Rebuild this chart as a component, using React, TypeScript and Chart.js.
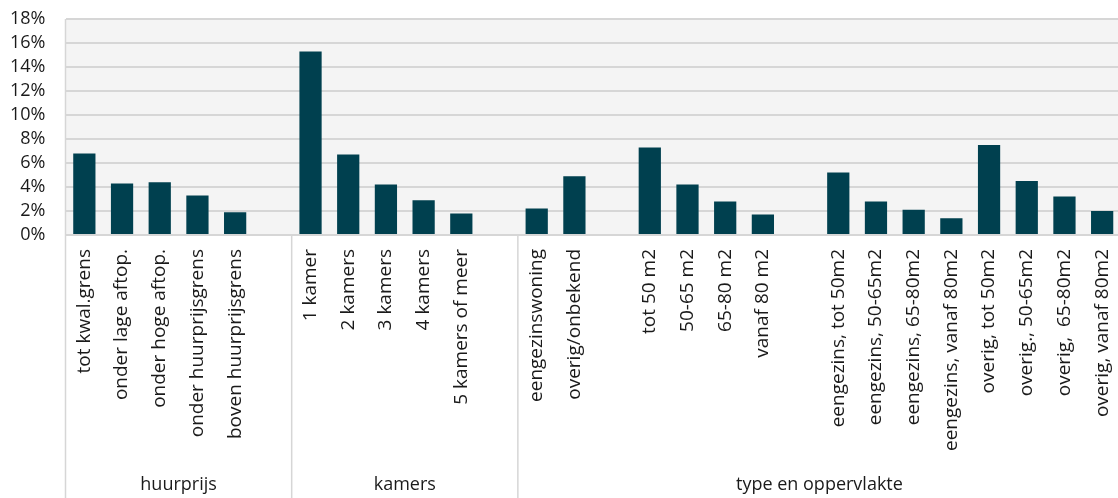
import { useEffect, useRef } from 'react';
import { Chart, registerables } from 'chart.js';

Chart.register(...registerables);

// Category slots along the x axis; empty strings are spacer slots between blocks.
const categories = [
  'tot kwal.grens', 'onder lage aftop.', 'onder hoge aftop.', 'onder huurprijsgrens', 'boven huurprijsgrens', '',
  '1 kamer', '2 kamers', '3 kamers', '4 kamers', '5 kamers of meer', '',
  'eengezinswoning', 'overig/onbekend', '',
  'tot 50 m2', '50-65 m2', '65-80 m2', 'vanaf 80 m2', '',
  'eengezins, tot 50m2', 'eengezins, 50-65m2', 'eengezins, 65-80m2', 'eengezins, vanaf 80m2',
  'overig, tot 50m2', 'overig., 50-65m2', 'overig,  65-80m2', 'overig, vanaf 80m2',
];

// Share per category, in percent (null = spacer slot).
const shares = [
  6.8, 4.3, 4.4, 3.3, 1.9, null,
  15.3, 6.7, 4.2, 2.9, 1.8, null,
  2.2, 4.9, null,
  7.3, 4.2, 2.8, 1.7, null,
  5.2, 2.8, 2.1, 1.4,
  7.5, 4.5, 3.2, 2.0,
];

// Outer category level: group names and how many slots each spans.
const groupNames = ['huurprijs', 'kamers', 'type en oppervlakte'];
const groupSpans = [6, 6, 16];

// Value axis range and step, in percent.
const yMin = 0;
const yMax = 18;
const yStep = 2;

const FONT = '"Open Sans", sans-serif';
const TEXT = '#1a1a1a';
const LINE = '#d6d6d6';

const groupAxisPlugin = {
  id: 'groupAxis',
  beforeDraw(chart: any) {
    const { ctx, chartArea } = chart;
    ctx.save();
    ctx.fillStyle = '#f4f4f4';
    ctx.fillRect(chartArea.left, chartArea.top, chartArea.right - chartArea.left, chartArea.bottom - chartArea.top);
    ctx.restore();
  },
  afterDraw(chart: any) {
    const { ctx, chartArea, height } = chart;
    const x = chart.scales.x;
    const slot = (chartArea.right - chartArea.left) / categories.length;
    ctx.save();
    ctx.strokeStyle = LINE;
    ctx.lineWidth = 1.5;
    // left frame line, from top of the plot down to the bottom of the axis
    ctx.beginPath();
    ctx.moveTo(chartArea.left, chartArea.top);
    ctx.lineTo(chartArea.left, height);
    ctx.stroke();
    let start = 0;
    ctx.fillStyle = TEXT;
    ctx.font = `18px ${FONT}`;
    ctx.textAlign = 'center';
    ctx.textBaseline = 'middle';
    groupSpans.forEach((span, i) => {
      const end = start + span;
      const xStart = x.getPixelForValue(start) - slot / 2;
      const xEnd = x.getPixelForValue(end - 1) + slot / 2;
      if (end < categories.length) {
        ctx.beginPath();
        ctx.moveTo(xEnd, chartArea.bottom);
        ctx.lineTo(xEnd, height);
        ctx.stroke();
      }
      ctx.fillText(groupNames[i], (xStart + Math.min(xEnd, chartArea.right)) / 2, 485);
      start = end;
    });
    ctx.restore();
  },
};

export default function App() {
  const canvasRef = useRef<HTMLCanvasElement>(null);

  useEffect(() => {
    if (!canvasRef.current) return;
    const chart = new Chart(canvasRef.current, {
      type: 'bar',
      data: {
        labels: categories,
        datasets: [
          {
            data: shares,
            backgroundColor: '#00404f',
            barPercentage: 0.59,
            categoryPercentage: 1,
          },
        ],
      },
      options: {
        animation: false,
        responsive: true,
        maintainAspectRatio: false,
        layout: { padding: 0 },
        plugins: {
          legend: { display: false },
          tooltip: { enabled: false },
        },
        scales: {
          x: {
            grid: { display: false, drawTicks: false },
            border: { display: false },
            ticks: {
              autoSkip: false,
              minRotation: 90,
              maxRotation: 90,
              padding: 14,
              color: TEXT,
              font: { family: FONT, size: 19 },
            },
            afterFit(scale: any) {
              scale.height = 263;
              scale.paddingLeft = 0;
              scale.paddingRight = 0;
            },
          },
          y: {
            min: yMin,
            max: yMax,
            grid: { color: LINE, lineWidth: 2, drawTicks: false },
            border: { display: false },
            ticks: {
              stepSize: yStep,
              autoSkip: false,
              padding: 20,
              color: TEXT,
              font: { family: FONT, size: 18 },
              callback: (v: any) => `${v}%`,
            },
            afterFit(scale: any) {
              scale.width = 65.5;
              scale.paddingTop = 19;
              scale.paddingBottom = 0;
            },
          },
        },
      },
      plugins: [groupAxisPlugin],
    });
    return () => chart.destroy();
  }, []);

  return (
    <div style={{ position: 'absolute', left: 0, top: 0, width: 1118, height: 498, overflow: 'hidden', background: '#fff' }}>
      <div style={{ position: 'relative', width: 1121, height: 498 }}>
        <canvas ref={canvasRef} />
      </div>
    </div>
  );
}
